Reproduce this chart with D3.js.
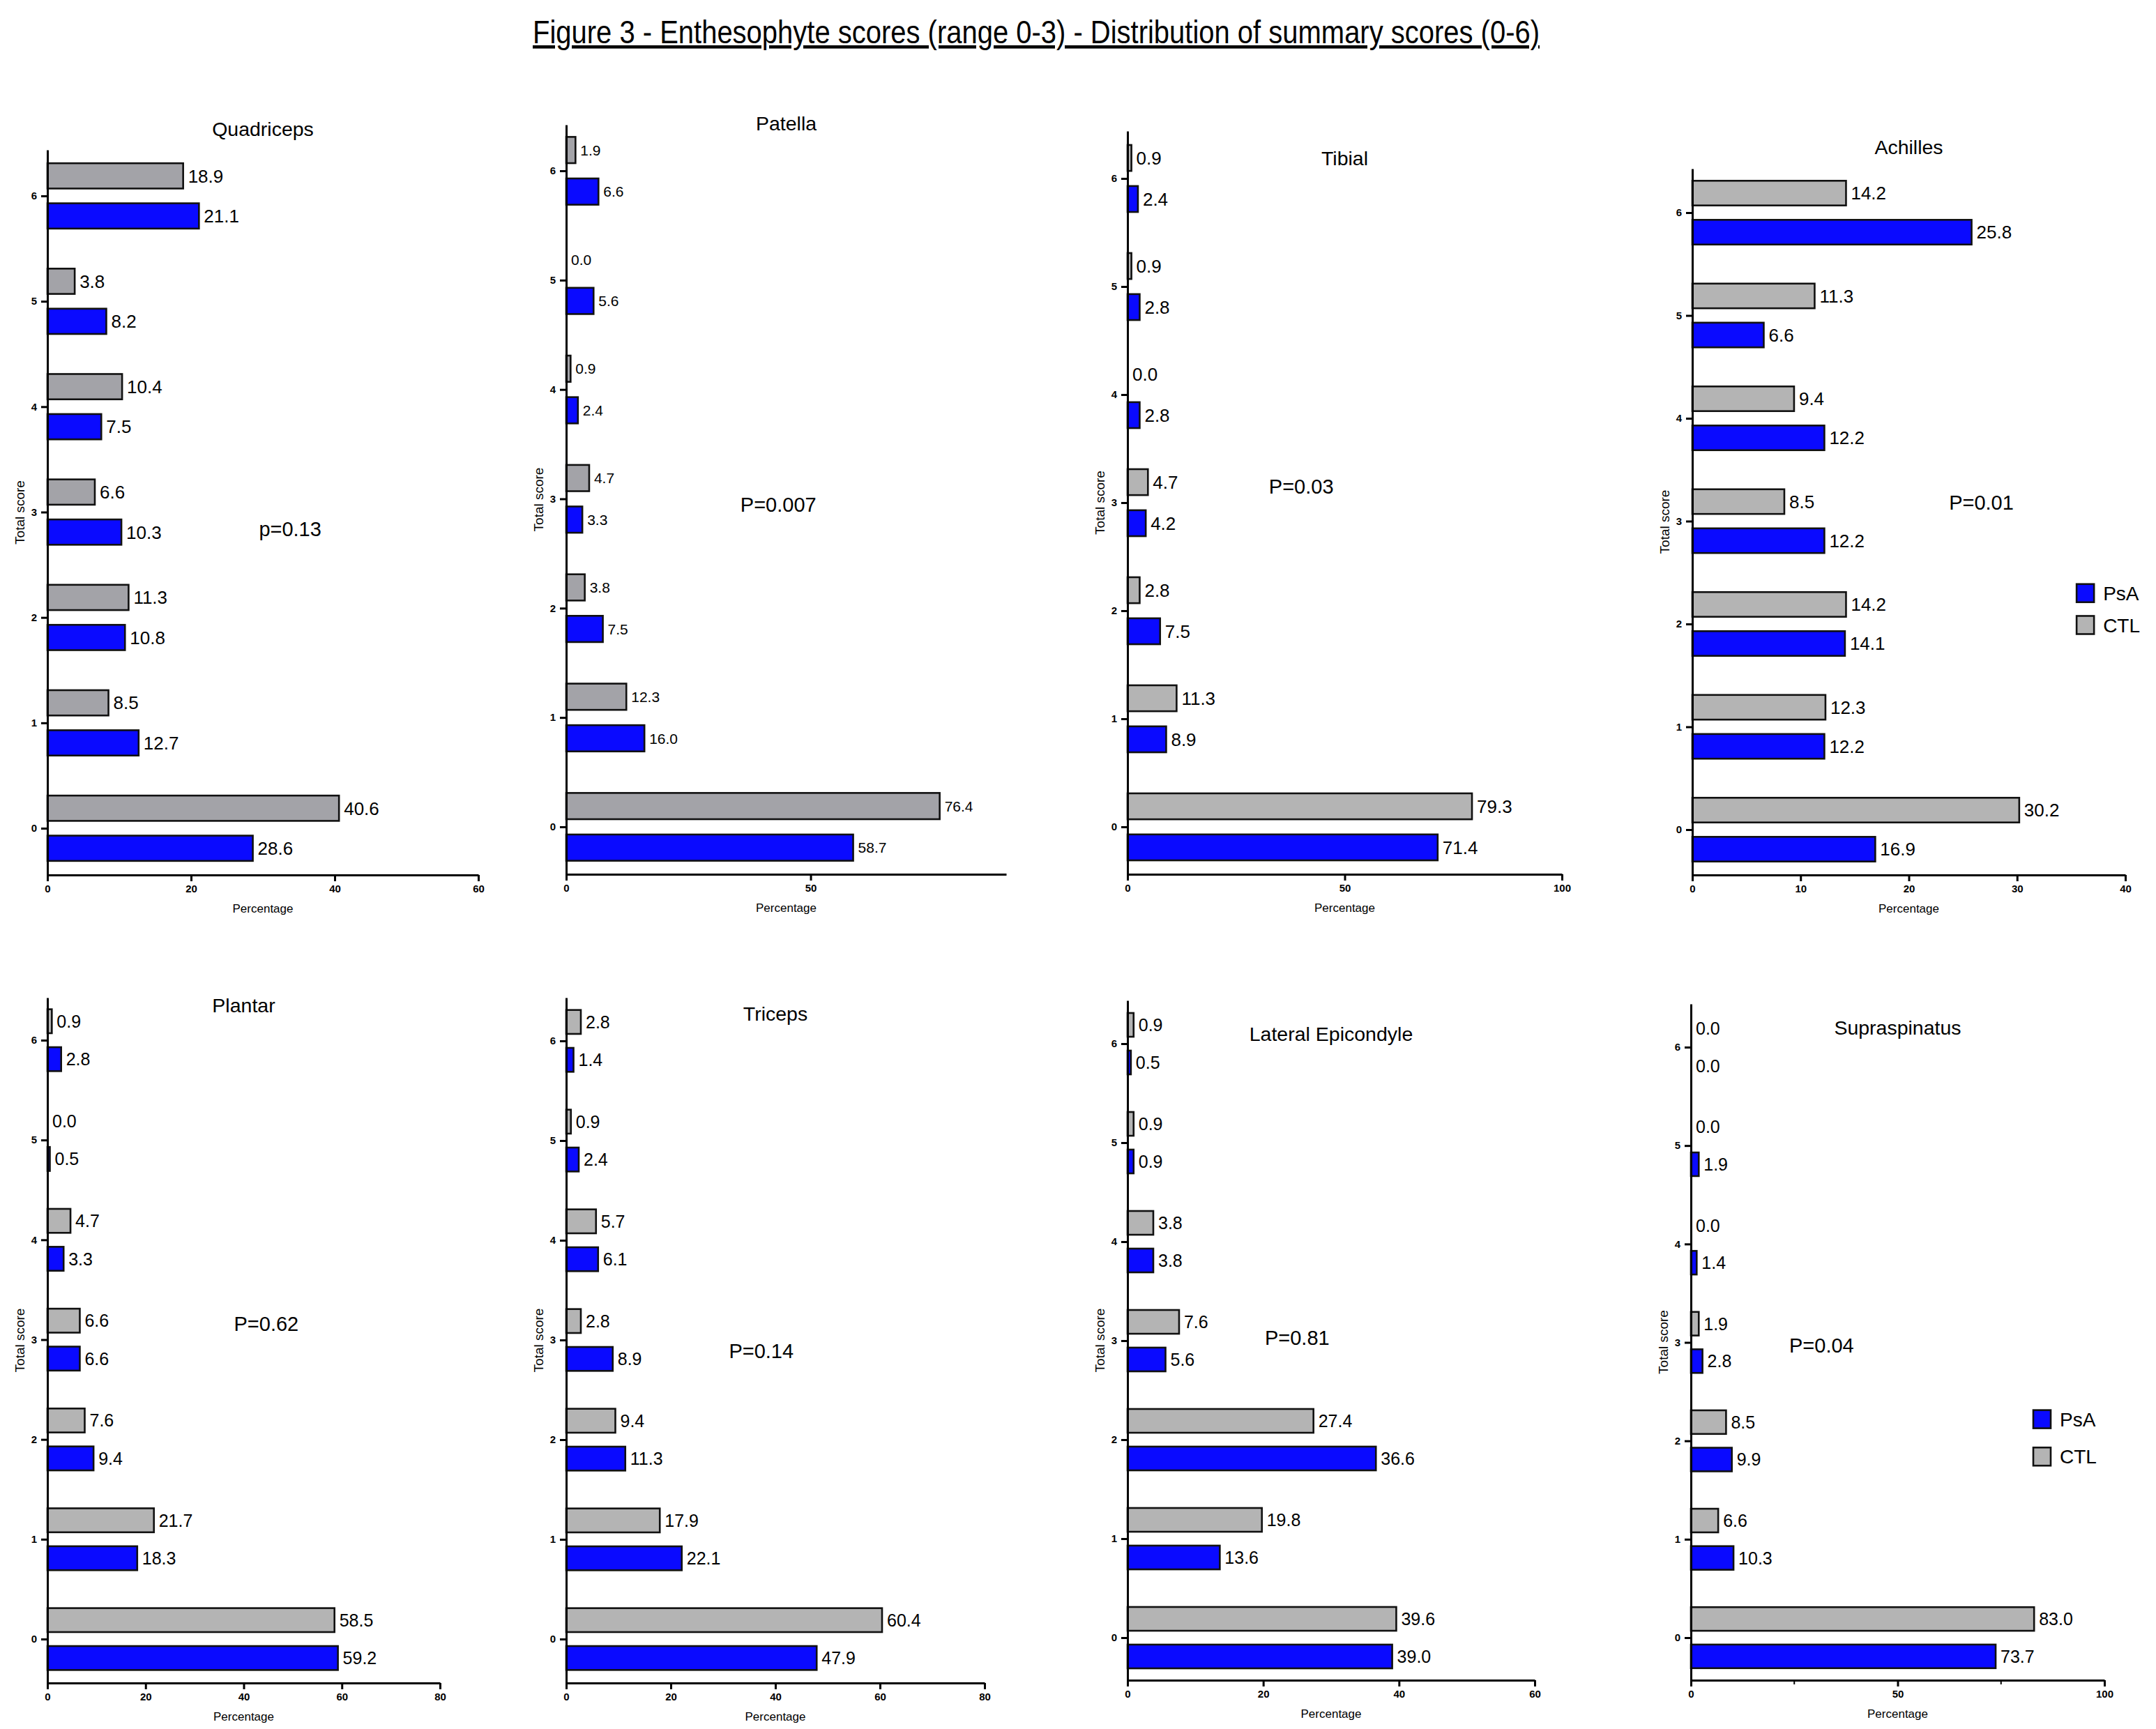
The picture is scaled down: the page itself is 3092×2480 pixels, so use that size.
<!DOCTYPE html>
<html>
<head>
<meta charset="utf-8">
<script src="https://cdn.jsdelivr.net/npm/d3@7/dist/d3.min.js"></script>
<style>
  body { margin: 0; background: #fff; }
  text { font-family: "Liberation Sans", Arial, Helvetica, sans-serif; fill: #000; }
  .narrow { font-family: "Liberation Sans Narrow", "Liberation Sans", Arial, sans-serif; }
</style>
</head>
<body>
<svg id="chart"></svg>
<script>
// ---- data ----
const scores = [0, 1, 2, 3, 4, 5, 6];
const groups = ["PsA", "CTL"];

const quadricepsPsA = [28.6, 12.7, 10.8, 10.3, 7.5, 8.2, 21.1];
const quadricepsCTL = [40.6, 8.5, 11.3, 6.6, 10.4, 3.8, 18.9];
const patellaPsA = [58.7, 16.0, 7.5, 3.3, 2.4, 5.6, 6.6];
const patellaCTL = [76.4, 12.3, 3.8, 4.7, 0.9, 0.0, 1.9];
const tibialPsA = [71.4, 8.9, 7.5, 4.2, 2.8, 2.8, 2.4];
const tibialCTL = [79.3, 11.3, 2.8, 4.7, 0.0, 0.9, 0.9];
const achillesPsA = [16.9, 12.2, 14.1, 12.2, 12.2, 6.6, 25.8];
const achillesCTL = [30.2, 12.3, 14.2, 8.5, 9.4, 11.3, 14.2];
const plantarPsA = [59.2, 18.3, 9.4, 6.6, 3.3, 0.5, 2.8];
const plantarCTL = [58.5, 21.7, 7.6, 6.6, 4.7, 0.0, 0.9];
const tricepsPsA = [47.9, 22.1, 11.3, 8.9, 6.1, 2.4, 1.4];
const tricepsCTL = [60.4, 17.9, 9.4, 2.8, 5.7, 0.9, 2.8];
const lateralPsA = [39.0, 13.6, 36.6, 5.6, 3.8, 0.9, 0.5];
const lateralCTL = [39.6, 19.8, 27.4, 7.6, 3.8, 0.9, 0.9];
const supraPsA = [73.7, 10.3, 9.9, 2.8, 1.4, 1.9, 0.0];
const supraCTL = [83.0, 6.6, 8.5, 1.9, 0.0, 0.0, 0.0];

const panelNames = ["Quadriceps", "Patella", "Tibial", "Achilles",
                    "Plantar", "Triceps", "Lateral Epicondyle", "Supraspinatus"];
const pLabels = ["p=0.13", "P=0.007", "P=0.03", "P=0.01",
                 "P=0.62", "P=0.14", "P=0.81", "P=0.04"];
// p label position in data units [percentage, score]
const pPos = [[33.8, 2.84], [43.4, 2.95], [40.0, 3.15], [26.7, 3.18],
              [44.6, 3.16], [37.3, 2.89], [25.0, 3.03], [31.6, 2.97]];
const xMax = [60, 90, 100, 40, 80, 80, 60, 100];
const xTicks = [[0, 20, 40, 60], [0, 50], [0, 50, 100], [0, 10, 20, 30, 40],
                [0, 20, 40, 60, 80], [0, 20, 40, 60, 80], [0, 20, 40, 60], [0, 50, 100]];
const xMinorTicks = [[], [], [], [], [], [], [], [25, 75]];
const psaSeries = [quadricepsPsA, patellaPsA, tibialPsA, achillesPsA, plantarPsA, tricepsPsA, lateralPsA, supraPsA];
const ctlSeries = [quadricepsCTL, patellaCTL, tibialCTL, achillesCTL, plantarCTL, tricepsCTL, lateralCTL, supraCTL];
// legend anchor in data units (panel index, percentage, score of first entry, score of second)
const legendAt = [[3, 35.5, 2.30, 1.99], [7, 82.8, 2.22, 1.84]];

const figTitle = "Figure 3 - Enthesophyte scores (range 0-3) - Distribution of summary scores (0-6)";

// ---- layout ----
const config = { width: 3092, height: 2480 };
const layout = [
  { left: 68,   right: 686,  y0: 1188, y6: 281,  top: 215,  bottom: 1255, titleY: 195,  grey: "#a3a3a8", lab: 26 },
  { left: 812,  right: 1443, y0: 1186, y6: 245,  top: 179,  bottom: 1254, titleY: 187,  grey: "#a3a3a8", lab: 21 },
  { left: 1617, right: 2240, y0: 1186, y6: 256,  top: 188,  bottom: 1254, titleY: 237,  grey: "#b4b4b4", lab: 26 },
  { left: 2427, right: 3048, y0: 1190, y6: 305,  top: 242,  bottom: 1255, titleY: 221,  grey: "#b4b4b4", lab: 26 },
  { left: 68,   right: 631,  y0: 2351, y6: 1492, top: 1431, bottom: 2414, titleY: 1452, grey: "#b4b4b4", lab: 25 },
  { left: 812,  right: 1412, y0: 2351, y6: 1493, top: 1431, bottom: 2414, titleY: 1464, grey: "#b4b4b4", lab: 25 },
  { left: 1617, right: 2201, y0: 2349, y6: 1497, top: 1435, bottom: 2410, titleY: 1493, grey: "#b4b4b4", lab: 25 },
  { left: 2425, right: 3018, y0: 2349, y6: 1502, top: 1440, bottom: 2410, titleY: 1484, grey: "#b4b4b4", lab: 25 }
];
const blue = "#0a0aff";

const svg = d3.select("#chart")
  .attr("width", config.width)
  .attr("height", config.height);

svg.append("rect").attr("width", config.width).attr("height", config.height).attr("fill", "#fff");

svg.append("text")
  .attr("class", "narrow")
  .attr("x", 1486).attr("y", 62)
  .attr("text-anchor", "middle")
  .attr("font-size", 46)
  .attr("textLength", 1444)
  .attr("lengthAdjust", "spacingAndGlyphs")
  .style("text-decoration", "underline")
  .text(figTitle);

panelNames.forEach((name, i) => {
  const L = layout[i];
  const unit = (L.y0 - L.y6) / 6;
  const x = d3.scaleLinear().domain([0, xMax[i]]).range([L.left, L.right]);
  const y = d3.scaleLinear()
    .domain([-(L.bottom - L.y0) / unit, 6 + (L.y6 - L.top) / unit])
    .range([L.bottom, L.top]);

  const g = svg.append("g");

  // bars
  const rows = scores.flatMap(s => [
    { s, v: ctlSeries[i][s], grp: "CTL" },
    { s, v: psaSeries[i][s], grp: "PsA" }
  ]);
  rows.forEach(d => {
    const yTop = d.grp === "CTL" ? y(d.s + 0.31) : y(d.s - 0.07);
    const yBot = d.grp === "CTL" ? y(d.s + 0.07) : y(d.s - 0.31);
    if (d.v > 0) {
      g.append("rect")
        .attr("x", x(0))
        .attr("y", yTop)
        .attr("width", x(d.v) - x(0))
        .attr("height", yBot - yTop)
        .attr("fill", d.grp === "CTL" ? L.grey : blue)
        .attr("stroke", "#111")
        .attr("stroke-width", 2.6);
    }
    g.append("text")
      .attr("x", x(d.v) + 7)
      .attr("y", (yTop + yBot) / 2)
      .attr("dy", "0.36em")
      .attr("font-size", L.lab)
      .text(d.v.toFixed(1));
  });

  // axes
  const xAxis = d3.axisBottom(x).tickValues(xTicks[i]).tickFormat(d3.format("d"))
    .tickSize(9).tickSizeOuter(0).tickPadding(5);
  const yAxis = d3.axisLeft(y).tickValues(scores).tickFormat(d3.format("d"))
    .tickSize(9).tickSizeOuter(0).tickPadding(6);

  const gx = g.append("g").attr("transform", `translate(0,${L.bottom})`).call(xAxis);
  const gy = g.append("g").attr("transform", `translate(${L.left},0)`).call(yAxis);
  [gx, gy].forEach(a => {
    a.select(".domain").attr("stroke", "#000").attr("stroke-width", 3);
    a.selectAll(".tick line").attr("stroke", "#000").attr("stroke-width", 3);
    a.selectAll(".tick text")
      .attr("font-size", 15)
      .attr("font-weight", "bold")
      .attr("font-family", "'Liberation Sans', Arial, sans-serif")
      .attr("fill", "#000");
  });
  xMinorTicks[i].forEach(t => {
    g.append("line")
      .attr("x1", x(t)).attr("x2", x(t))
      .attr("y1", L.bottom).attr("y2", L.bottom + 6)
      .attr("stroke", "#000").attr("stroke-width", 2);
  });

  // axis titles
  g.append("text")
    .attr("x", (L.left + L.right) / 2)
    .attr("y", L.bottom + 54)
    .attr("text-anchor", "middle")
    .attr("font-size", 17)
    .text("Percentage");

  g.append("text")
    .attr("class", "narrow")
    .attr("transform", `translate(${L.left - 33},${(L.top + L.bottom) / 2}) rotate(-90)`)
    .attr("text-anchor", "middle")
    .attr("font-size", 19)
    .text("Total score");

  // panel title
  g.append("text")
    .attr("x", (L.left + L.right) / 2)
    .attr("y", L.titleY)
    .attr("text-anchor", "middle")
    .attr("font-size", 28.5)
    .text(name);

  // p value
  g.append("text")
    .attr("x", x(pPos[i][0]))
    .attr("y", y(pPos[i][1]))
    .attr("dy", "0.36em")
    .attr("text-anchor", "middle")
    .attr("font-size", 29)
    .text(pLabels[i]);

  // legend
  legendAt.filter(l => l[0] === i).forEach(l => {
    const entries = [{ grp: groups[0], s: l[2] }, { grp: groups[1], s: l[3] }];
    entries.forEach(e => {
      const cy = y(e.s);
      g.append("rect")
        .attr("x", x(l[1]))
        .attr("y", cy - 13)
        .attr("width", 25)
        .attr("height", 26)
        .attr("fill", e.grp === "PsA" ? blue : L.grey)
        .attr("stroke", "#111")
        .attr("stroke-width", 2.6);
      g.append("text")
        .attr("x", x(l[1]) + 38)
        .attr("y", cy)
        .attr("dy", "0.36em")
        .attr("font-size", 28)
        .text(e.grp);
    });
  });
});
</script>
</body>
</html>
